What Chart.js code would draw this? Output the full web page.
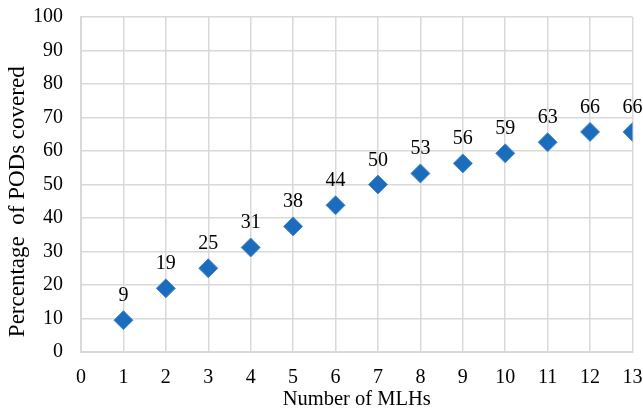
<!DOCTYPE html>
<html>
<head>
<meta charset="utf-8">
<script src="https://cdn.jsdelivr.net/npm/chart.js@4"></script>
<style>
  html, body { margin: 0; padding: 0; background: #fff; }
  #wrap { width: 643px; height: 409px; }
</style>
</head>
<body>
<div id="wrap"><canvas id="chart"></canvas></div>
<script>
const mlhs = [1, 2, 3, 4, 5, 6, 7, 8, 9, 10, 11, 12, 13];
const coverage = [9.5, 19, 25, 31.2, 37.5, 43.8, 50, 53.3, 56.3, 59.3, 62.6, 65.7, 65.7];
const coverageLabels = ['9', '19', '25', '31', '38', '44', '50', '53', '56', '59', '63', '66', '66'];

const serif = '"Liberation Serif", "Times New Roman", serif';

// draws the value above each marker
const pointLabels = {
  id: 'pointLabels',
  afterDatasetsDraw(chart) {
    const ctx = chart.ctx;
    const meta = chart.getDatasetMeta(0);
    ctx.save();
    ctx.font = '20px ' + serif;
    ctx.fillStyle = '#000';
    ctx.textAlign = 'center';
    ctx.textBaseline = 'alphabetic';
    meta.data.forEach((pt, i) => {
      ctx.fillText(coverageLabels[i], pt.x, pt.y - 19);
    });
    ctx.restore();
  }
};

new Chart(document.getElementById('chart'), {
  type: 'scatter',
  data: {
    datasets: [{
      label: 'Coverage',
      data: mlhs.map((x, i) => ({ x: x, y: coverage[i] })),
      pointStyle: 'rectRot',
      pointRadius: 9.5,
      backgroundColor: '#1c6cbc',
      borderColor: '#4a8bd0',
      borderWidth: 1,
    }]
  },
  options: {
    responsive: true,
    maintainAspectRatio: false,
    animation: false,
    layout: { padding: { top: 17, right: 9, left: 0, bottom: 0 } },
    plugins: {
      legend: { display: false },
      tooltip: { enabled: false },
    },
    scales: {
      x: {
        type: 'linear',
        min: 0,
        max: 13,
        afterFit: (s) => { s.height = 57; s.paddingLeft = 0; s.paddingRight = 0; },
        ticks: { stepSize: 1, color: '#000', font: { family: serif, size: 20 }, padding: 14 },
        grid: { color: '#d9d9d9', lineWidth: 1.5, drawTicks: false },
        border: { color: '#d9d9d9', width: 2 },
        title: { display: true, text: 'Number of MLHs', color: '#000', font: { family: serif, size: 20.5 }, padding: { top: 0, bottom: -3 } },
      },
      y: {
        min: 0,
        max: 100,
        afterFit: (s) => { s.width = 81; s.paddingTop = 0; s.paddingBottom = 0; },
        ticks: { stepSize: 10, color: '#000', font: { family: serif, size: 20 }, padding: 18 },
        grid: { color: '#d9d9d9', lineWidth: 1.5, drawTicks: false },
        border: { color: '#d9d9d9', width: 2 },
        title: { display: true, text: 'Percentage  of PODs covered      ', color: '#000', font: { family: serif, size: 23 }, padding: { top: 4, bottom: 0 } },
      },
    },
  },
  plugins: [pointLabels],
});
</script>
</body>
</html>
